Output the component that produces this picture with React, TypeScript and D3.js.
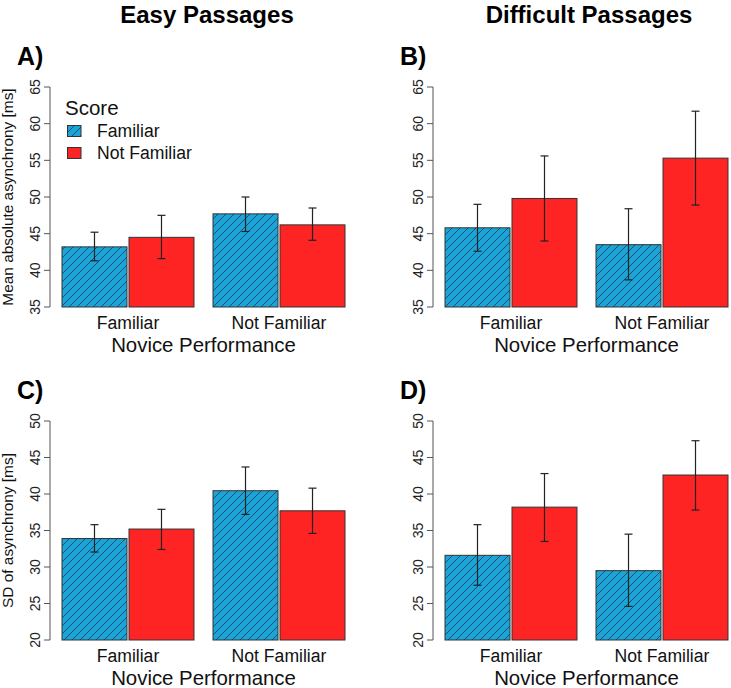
import React from "react";
import * as d3 from "d3";

const groups = ["Familiar", "Not Familiar"];
const seriesNames = ["Familiar", "Not Familiar"];

// values ordered: [group Familiar: series Fam, series NotFam], [group Not Familiar: ...]
const easyMean = [43.2, 44.5, 47.7, 46.2];
const easyMeanLo = [41.3, 41.6, 45.3, 44.1];
const easyMeanHi = [45.2, 47.5, 50.0, 48.5];

const diffMean = [45.8, 49.8, 43.5, 55.3];
const diffMeanLo = [42.6, 44.0, 38.7, 48.9];
const diffMeanHi = [49.0, 55.6, 48.4, 61.7];

const easySD = [33.9, 35.2, 40.45, 37.7];
const easySDLo = [32.05, 32.4, 37.2, 34.6];
const easySDHi = [35.8, 37.9, 43.7, 40.8];

const diffSD = [31.6, 38.2, 29.5, 42.6];
const diffSDLo = [27.5, 33.5, 24.6, 37.8];
const diffSDHi = [35.8, 42.8, 34.5, 47.3];

const meanTicks = [35, 40, 45, 50, 55, 60, 65];
const sdTicks = [20, 25, 30, 35, 40, 45, 50];

const BLUE = "#1AA5D6";
const RED = "#FE2424";
const HATCH = "#1B4A78";
const FONT = "'Liberation Sans', Arial, Helvetica, sans-serif";

type PanelProps = {
  axisX: number;
  top: number;
  bottom: number;
  domain: [number, number];
  ticks: number[];
  mean: number[];
  lo: number[];
  hi: number[];
  letter: string;
  yTitle?: string;
  legend?: boolean;
};

function Panel(p: PanelProps) {
  const y = d3.scaleLinear().domain(p.domain).range([p.bottom, p.top]);
  const x0 = d3
    .scaleBand<string>()
    .domain(groups)
    .range([p.axisX + 12, p.axisX + 295])
    .paddingInner(0.126)
    .paddingOuter(0);
  const x1 = d3
    .scaleBand<string>()
    .domain(seriesNames)
    .range([0, x0.bandwidth()])
    .paddingInner(0.03)
    .paddingOuter(0);
  const labelX = p.axisX - 10;
  const midY = (p.top + p.bottom) / 2;
  const bars: React.ReactNode[] = [];
  groups.forEach((g, gi) => {
    seriesNames.forEach((s, si) => {
      const i = gi * 2 + si;
      const bx = (x0(g) as number) + (x1(s) as number);
      const bw = x1.bandwidth();
      const cx = bx + bw / 2;
      const fill = si === 0 ? BLUE : RED;
      bars.push(
        <g key={`b${i}`}>
          <rect x={bx} y={y(p.mean[i])} width={bw} height={y(p.domain[0]) - y(p.mean[i])} fill={fill} />
          {si === 0 && (
            <rect x={bx} y={y(p.mean[i])} width={bw} height={y(p.domain[0]) - y(p.mean[i])} fill="url(#hatch)" />
          )}
          <rect
            x={bx}
            y={y(p.mean[i])}
            width={bw}
            height={y(p.domain[0]) - y(p.mean[i])}
            fill="none"
            stroke="#333"
            strokeWidth={1}
          />
          <line x1={cx} x2={cx} y1={y(p.hi[i])} y2={y(p.lo[i])} stroke="#222" strokeWidth={1.2} />
          <line x1={cx - 4} x2={cx + 4} y1={y(p.hi[i])} y2={y(p.hi[i])} stroke="#222" strokeWidth={1.2} />
          <line x1={cx - 4} x2={cx + 4} y1={y(p.lo[i])} y2={y(p.lo[i])} stroke="#222" strokeWidth={1.2} />
        </g>
      );
    });
  });
  const groupCenter = (g: string) => (x0(g) as number) + x0.bandwidth() / 2;
  const plotCenter = (p.axisX + 12 + p.axisX + 295) / 2;
  return (
    <g fontFamily={FONT}>
      <text x={p.axisX - 33} y={p.top - 22} fontSize={25} fontWeight="bold" fill="#000">
        {p.letter}
      </text>
      <line x1={p.axisX} x2={p.axisX} y1={y(p.domain[1])} y2={y(p.domain[0])} stroke="#555" strokeWidth={1} />
      {p.ticks.map((t) => (
        <g key={t}>
          <line x1={p.axisX - 6} x2={p.axisX} y1={y(t)} y2={y(t)} stroke="#555" strokeWidth={1} />
          <text
            transform={`translate(${labelX},${y(t)}) rotate(-90)`}
            textAnchor="middle"
            fontSize={14}
            fill="#222"
          >
            {t}
          </text>
        </g>
      ))}
      {bars}
      {groups.map((g) => (
        <text key={g} x={groupCenter(g)} y={p.bottom + 22} textAnchor="middle" fontSize={17.6} fill="#111">
          {g}
        </text>
      ))}
      <text x={plotCenter} y={p.bottom + 45} textAnchor="middle" fontSize={20.4} fill="#111">
        Novice Performance
      </text>
      {p.yTitle && (
        <text
          transform={`translate(13,${midY}) rotate(-90)`}
          textAnchor="middle"
          fontSize={15.4}
          fill="#111"
        >
          {p.yTitle}
        </text>
      )}
      {p.legend && (
        <g>
          <text x={65} y={115} fontSize={20.5} fill="#111">
            Score
          </text>
          {seriesNames.map((s, si) => (
            <g key={s}>
              <rect x={67.5} y={125.5 + si * 22} width={13.5} height={11} fill={si === 0 ? BLUE : RED} />
              {si === 0 && <rect x={67.5} y={125.5} width={13.5} height={11} fill="url(#hatch)" />}
              <rect
                x={67.5}
                y={125.5 + si * 22}
                width={13.5}
                height={11}
                fill="none"
                stroke="#333"
                strokeWidth={1}
              />
              <text x={97} y={137 + si * 22} fontSize={17.6} fill="#111">
                {s}
              </text>
            </g>
          ))}
        </g>
      )}
    </g>
  );
}

export default function App() {
  return (
    <svg
      width={731}
      height={688}
      viewBox="0 0 731 688"
      style={{ position: "absolute", left: 0, top: 0, background: "#fff" }}
    >
      <defs>
        <pattern id="hatch" patternUnits="userSpaceOnUse" width={8} height={8}>
          <path d="M-2,2 L2,-2 M0,8 L8,0 M6,10 L10,6" stroke={HATCH} strokeWidth={1} />
        </pattern>
      </defs>
      <rect x={0} y={0} width={731} height={688} fill="#fff" />
      <text x={207} y={23} textAnchor="middle" fontFamily={FONT} fontWeight="bold" fontSize={24}>
        Easy Passages
      </text>
      <text x={589} y={23} textAnchor="middle" fontFamily={FONT} fontWeight="bold" fontSize={24}>
        Difficult Passages
      </text>
      <Panel
        axisX={50}
        top={87}
        bottom={307}
        domain={[35, 65]}
        ticks={meanTicks}
        mean={easyMean}
        lo={easyMeanLo}
        hi={easyMeanHi}
        letter="A)"
        yTitle="Mean absolute asynchrony [ms]"
        legend
      />
      <Panel
        axisX={433}
        top={87}
        bottom={307}
        domain={[35, 65]}
        ticks={meanTicks}
        mean={diffMean}
        lo={diffMeanLo}
        hi={diffMeanHi}
        letter="B)"
      />
      <Panel
        axisX={50}
        top={421}
        bottom={640}
        domain={[20, 50]}
        ticks={sdTicks}
        mean={easySD}
        lo={easySDLo}
        hi={easySDHi}
        letter="C)"
        yTitle="SD of asynchrony [ms]"
      />
      <Panel
        axisX={433}
        top={421}
        bottom={640}
        domain={[20, 50]}
        ticks={sdTicks}
        mean={diffSD}
        lo={diffSDLo}
        hi={diffSDHi}
        letter="D)"
      />
    </svg>
  );
}
